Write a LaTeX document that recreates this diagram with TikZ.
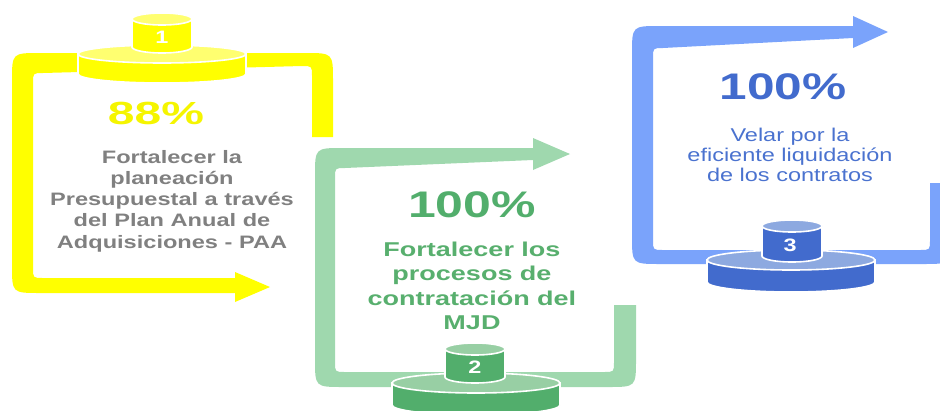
\documentclass[tikz,border=0pt]{standalone}
\usepackage{fontspec}
\setmainfont{Liberation Sans}
\usepackage{graphicx}
\definecolor{yband}{HTML}{FFFF00}
\definecolor{ybody}{HTML}{FFFF00}
\definecolor{ytop}{HTML}{FFFF70}
\definecolor{ytext}{HTML}{F5F500}
\definecolor{gband}{HTML}{9FD8AE}
\definecolor{gbody}{HTML}{52AE6C}
\definecolor{gtop}{HTML}{98CFA4}
\definecolor{gtext}{HTML}{58AF6E}
\definecolor{bband}{HTML}{7AA3FB}
\definecolor{bbody}{HTML}{426BCD}
\definecolor{btop}{HTML}{8DA9E0}
\definecolor{btext}{HTML}{4A72CF}
\definecolor{graytext}{HTML}{808080}
\newcommand\wide[2]{\scalebox{#1}[1]{\begin{tabular}{@{}c@{}}#2\end{tabular}}}
\newcommand\mydisk[7]{% cx, top cy, rx, ry, height, body, top
  \filldraw[fill=#6, draw=white, line width=1.6pt]
    ({#1-#3},{#2}) -- ({#1-#3},{#2+#5})
    arc[start angle=180, end angle=360, x radius=#3pt, y radius=#4pt]
    -- ({#1+#3},{#2}) -- cycle;
  \filldraw[fill=#7, draw=white, line width=1.6pt]
    (#1,#2) ellipse[x radius=#3pt, y radius=#4pt];
}
\tikzset{
  txt/.style={inner sep=0pt, outer sep=0pt, anchor=center},
  pct/.style={txt, font=\bfseries\fontsize{37}{40}\selectfont},
  numlbl/.style={txt, text=white, font=\bfseries\fontsize{18}{20}\selectfont},
}
\begin{document}
\begin{tikzpicture}[x=1pt, y=-1pt]
\useasboundingbox (0,0) rectangle (940,410);
\clip (0,0) rectangle (940,410);

% yellow loop
\fill[yband] (333,137) -- (333,81) .. controls (333,53) .. (305,53) -- (40,53)
  .. controls (12,53) .. (12,81) -- (12,265) .. controls (12,293) .. (40,293)
  -- (235,293) -- (235,302) -- (270,287) -- (235,272) -- (235,278)
  -- (43,278) .. controls (33,278) .. (33,268) -- (33,83) .. controls (33,73) .. (43,73)
  -- (302,66) .. controls (312,66) .. (312,76) -- (312,137) -- cycle;

% green loop
\fill[gband] (614,305) -- (614,362) .. controls (614,372) .. (604,372) -- (345,372)
  .. controls (335,372) .. (335,362) -- (335,178) .. controls (335,168) .. (345,168)
  -- (533,160) -- (533,170) -- (570,154) -- (533,138) -- (533,148)
  -- (343,148) .. controls (315,148) .. (315,176) -- (315,359) .. controls (315,387) .. (343,387)
  -- (608,387) .. controls (636,387) .. (636,359) -- (636,305) -- cycle;

% blue loop
\fill[bband] (930,183) -- (930,240) .. controls (930,250) .. (920,250) -- (663,250)
  .. controls (653,250) .. (653,240) -- (653,58) .. controls (653,48) .. (663,48)
  -- (853,38) -- (853,48) -- (888,32) -- (853,16) -- (853,26)
  -- (660,26) .. controls (632,26) .. (632,54) -- (632,236) .. controls (632,264) .. (660,264)
  -- (923,264) .. controls (951,264) .. (951,236) -- (951,183) -- cycle;

% disks
\mydisk{162}{54}{84}{9}{20}{ybody}{ytop}
\mydisk{162}{19}{30}{6}{28}{ybody}{ytop}
\mydisk{476}{383}{84}{10}{22}{gbody}{gtop}
\mydisk{475}{349}{30}{6}{28}{gbody}{gtop}
\mydisk{791}{260}{84}{10}{22}{bbody}{btop}
\mydisk{792}{226}{30}{6}{30}{bbody}{btop}

% number labels
\node[numlbl] (n1) at (162,37) {\scalebox{1.3}[1]{1}};
\node[numlbl] (n2) at (475,367) {\scalebox{1.3}[1]{2}};
\node[numlbl] (n3) at (790,245) {\scalebox{1.3}[1]{3}};

% percentages
\node[txt, text=ytext, font=\bfseries\fontsize{32}{36}\selectfont] (p1) at (156,113.5) {\scalebox{1.5}[1]{88\%}};
\node[pct, text=gbody] (p2) at (472,205) {\scalebox{1.35}[1]{100\%}};
\node[pct, text=bbody] (p3) at (783,86.5) {\scalebox{1.34}[1]{100\%}};

% descriptions
\node[txt, text=graytext, font=\bfseries\fontsize{18}{21.3}\selectfont] (d1) at (172,201.4)
  {\wide{1.31}{Fortalecer la\\planeación\\Presupuestal a través\\del Plan Anual de\\Adquisiciones - PAA}};
\node[txt, text=gtext, font=\bfseries\fontsize{20}{24.5}\selectfont] (d2) at (472,287.9)
  {\wide{1.35}{Fortalecer los\\procesos de\\contratación del\\MJD}};
\node[txt, text=btext, font=\fontsize{18.5}{20}\selectfont] (d3) at (790,157)
  {\wide{1.27}{Velar por la\\eficiente liquidación\\de los contratos}};
\end{tikzpicture}
\end{document}
